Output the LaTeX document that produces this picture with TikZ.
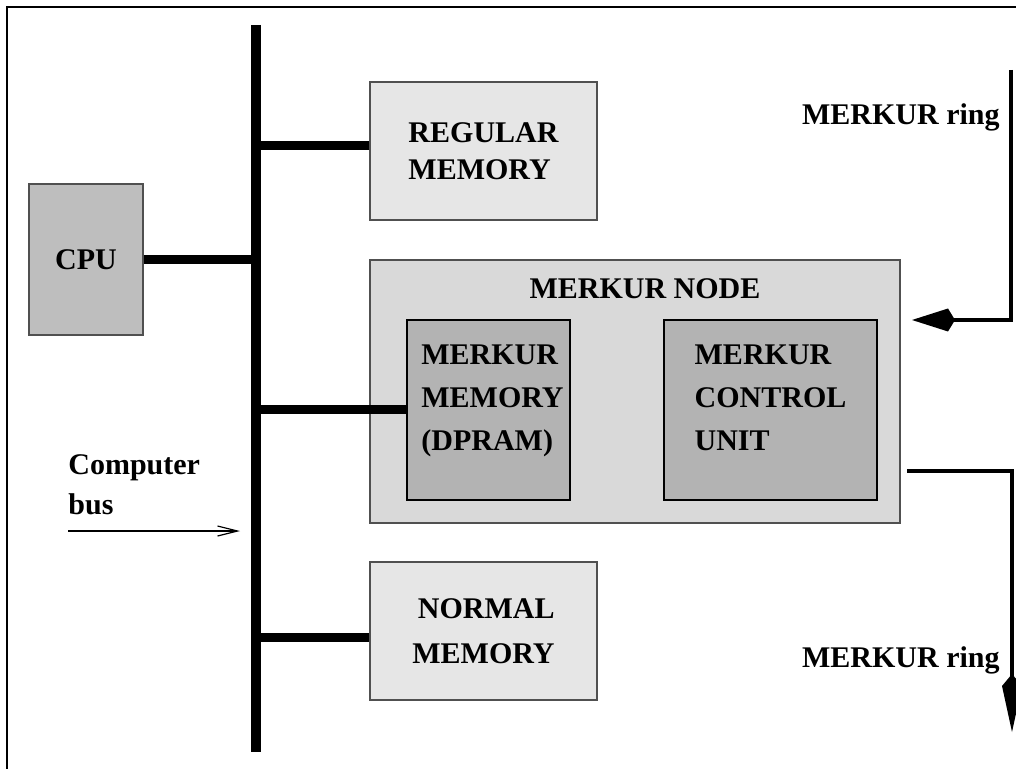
\documentclass[tikz,border=0pt]{standalone}
\usepackage{fontspec}
\setmainfont{Liberation Serif}
\definecolor{cpugray}{RGB}{190,190,190}
\definecolor{memgray}{RGB}{230,230,230}
\definecolor{nodegray}{RGB}{217,217,217}
\definecolor{unitgray}{RGB}{179,179,179}
\definecolor{edgegray}{RGB}{80,80,80}
\usetikzlibrary{arrows.meta,positioning}

\tikzset{
  boxtext/.style={font=\bfseries\fontsize{15}{18.5}\selectfont},
  membox/.style={boxtext,fill=memgray,draw=edgegray,line width=0.6pt,
    minimum width=113.5pt,minimum height=69pt,inner sep=0pt,align=left},
  unitbox/.style={font=\bfseries\fontsize{15}{21.5}\selectfont,fill=unitgray,
    draw=black,line width=0.8pt,minimum height=90pt,inner sep=0pt,align=left,
    text depth=12pt},
  busline/.style={line width=4.5pt},
  ringline/.style={line width=2.2pt},
}

\begin{document}
\begin{tikzpicture}[x=0.5pt,y=-0.5pt]
  \useasboundingbox (0,0) rectangle (1016,769);
  % frame
  \draw[line width=1pt] (7,769) -- (7,7) -- (1016,7);

  % boxes
  \node[boxtext,fill=cpugray,draw=edgegray,line width=0.6pt,minimum width=57pt,
        minimum height=75.5pt,inner sep=0pt] (cpu) at (86,259.5) {CPU};
  \node[membox] (regmem) at (483.5,151) {REGULAR\\MEMORY};
  \node[fill=nodegray,draw=edgegray,line width=0.6pt,minimum width=265pt,
        minimum height=131.5pt,inner sep=0pt] (mnode) at (635,391.5) {};
  \node[boxtext] (mnodelabel) at (645,289) {MERKUR NODE};
  \node[unitbox,minimum width=81.5pt] (mmem) at (488.5,410) {\hspace{4pt}MERKUR\\\hspace{4pt}MEMORY\\\hspace{4pt}(DPRAM)};
  \node[unitbox,minimum width=106.5pt] (mcu) at (770.5,410) {MERKUR\\CONTROL\\UNIT};
  \node[membox,align=right,font=\bfseries\fontsize{15}{22.5}\selectfont]
    (normmem) at (483.5,631) {NORMAL\\MEMORY};

  % computer bus
  \coordinate (bustop) at (256,25);
  \coordinate (busbot) at (256,752);
  \draw[line width=5pt] (bustop) -- (busbot);
  \draw[busline] (cpu.east) -- (cpu.east -| bustop);
  \draw[busline] ([yshift=2.5pt]regmem.west) -- ([yshift=2.5pt]regmem.west -| bustop);
  \draw[busline] (mmem.west) -- (mmem.west -| bustop);
  \draw[busline] ([yshift=-3pt]normmem.west) -- ([yshift=-3pt]normmem.west -| bustop);

  \node[align=left,anchor=west,inner sep=0pt,font=\bfseries\fontsize{15}{20}\selectfont]
    (buslabel) at (68,485) {Computer\\bus};
  \coordinate (busin) at (68,531);
  \draw[line width=0.6pt,-{Straight Barb[length=10pt,width=5pt]}]
    (busin) -- ([xshift=-8pt]busin -| bustop);

  % MERKUR ring
  \node[boxtext,anchor=east,inner sep=0pt] (ringtop) at (1000,117) {MERKUR ring};
  \node[boxtext,anchor=east,inner sep=0pt] (ringbot) at (1000,660) {MERKUR ring};
  \coordinate (ringin) at (1011,70);
  \coordinate (ringtip) at (912,320);
  \draw[ringline,-{Kite[length=21.5pt,width=11.5pt,inset=3.5pt]}]
    (ringin) |- (ringtip);
  \coordinate (ringout) at (907,471);
  \coordinate (ringend) at (1012,732);
  \draw[ringline,-{Kite[length=29pt,width=10pt,inset=6pt]}]
    (ringout) -| (ringend);
\end{tikzpicture}
\end{document}
